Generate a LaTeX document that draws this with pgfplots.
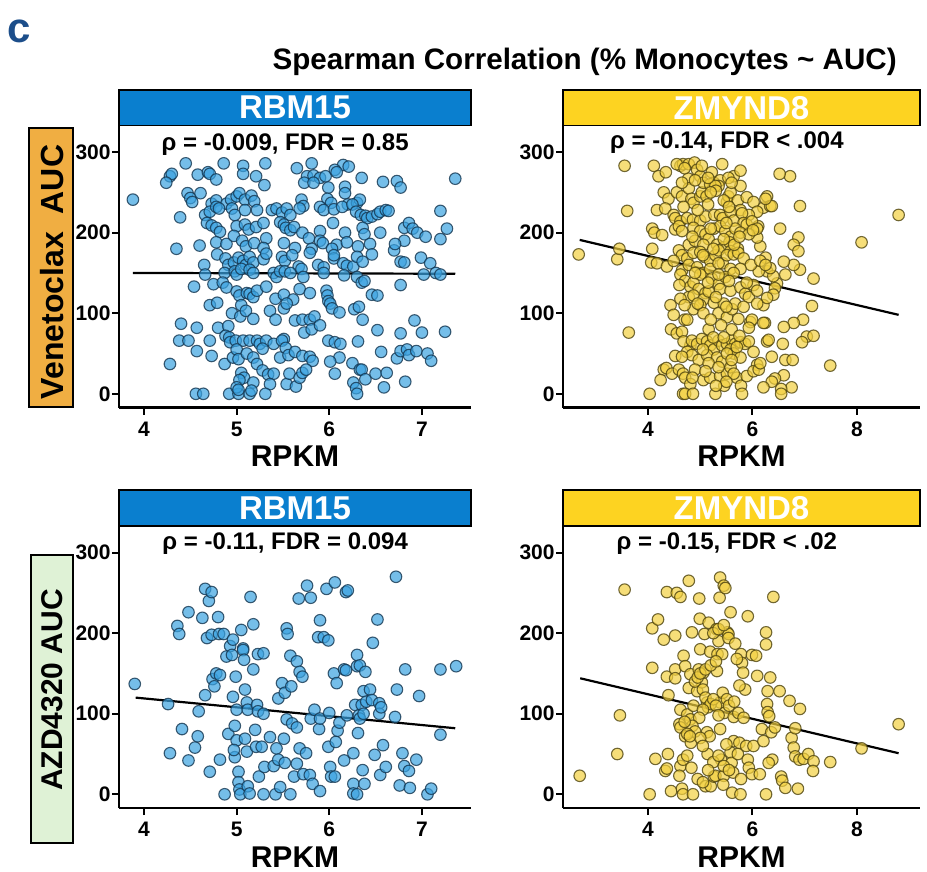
\documentclass[border=0pt]{standalone}
\usepackage{fontspec}
\setmainfont{Liberation Sans}
\usepackage{pgfplots}
\pgfplotsset{compat=1.18}
\definecolor{stripblue}{HTML}{0A7FCF}
\definecolor{stripyellow}{HTML}{FDD321}
\definecolor{boxorange}{HTML}{F0AE42}
\definecolor{boxgreen}{HTML}{DFF2D6}
\definecolor{ptblue}{HTML}{3AA2E0}
\definecolor{ptblueedge}{HTML}{143650}
\definecolor{ptyellow}{HTML}{F2D040}
\definecolor{ptyellowedge}{HTML}{4F4510}
\definecolor{letterblue}{HTML}{1C4E8A}
\tikzset{annot/.style={font=\bfseries\fontsize{12}{14}\selectfont, anchor=base}}
\pgfplotsset{
 panel/.style={
  scale only axis, height=141pt,
  axis x line*=bottom, axis y line*=left,
  axis line style={line width=1.3pt},
  tick style={line width=1pt, black},
  tick align=outside, major tick length=3.5pt,
  ymin=-17, ymax=333, ytick={0,100,200,300},
  /pgf/number format/assume math mode=true,
  ticklabel style={font=\bfseries\fontsize{10.5}{12}\selectfont},
  yticklabel style={inner sep=0.5pt},
  xlabel={RPKM},
  xlabel style={font=\bfseries\fontsize{15}{18}\selectfont, at={(axis description cs:0.5,0)}, anchor=center, yshift=-24.5pt},
  clip=false,
 },
 bluepts/.style={only marks, mark=*, mark size=2.9pt, mark options={fill=ptblue, fill opacity=0.7, draw=ptblueedge, draw opacity=0.8, line width=0.55pt}},
 yellowpts/.style={only marks, mark=*, mark size=2.9pt, mark options={fill=ptyellow, fill opacity=0.7, draw=ptyellowedge, draw opacity=0.8, line width=0.55pt}},
 fitline/.style={black, line width=1.1pt, no marks},
}
\begin{document}
\begin{tikzpicture}
\path[use as bounding box] (0,0) rectangle (463.5pt,-436pt);
% ---------------- top left
\begin{axis}[panel, at={(59.5pt,-203.75pt)}, anchor=south west, width=176pt,
  xmin=3.73, xmax=7.53, xtick={4,5,6,7}]
\addplot[bluepts] coordinates {
(4.45,286)(4.86,286)(5.07,283)(5.31,286)(5.81,286)(6.15,284)(6.21,282)
(4.28,270)(4.3,273)(4.58,272)(4.69,275)(4.71,273)(4.78,266)(5.07,273)(5.21,270)(5.65,280)(5.76,270)(5.83,271)(5.9,268)(5.96,270)(6.06,278)(6.08,275)(6.35,268)(6.58,263)(6.73,264)(6.77,256)(7.36,267)
(4.24,262)(5.3,259)(5.73,262)(5.83,262)(5.99,256)(6.17,257)
(4.47,249)(4.5,243)(4.52,238)(4.61,249)(4.73,236)(4.78,240)(4.89,236)(4.94,241)(5.0,245)(5.03,249)(5.09,241)(5.16,246)(5.19,239)(5.7,241)(5.72,233)(5.98,242)(6.02,237)(6.17,249)(6.2,235)(6.3,237)(6.33,241)(3.88,241)
(4.39,219)(4.66,222)(4.71,226)(4.78,232)(4.81,230)(4.95,230)(4.98,222)(5.09,228)(5.22,228)(5.38,228)(5.43,230)(5.49,225)(5.54,230)(5.58,222)(5.68,230)(5.9,232)(5.94,228)(6.05,229)(6.14,232)(6.25,235)(6.29,226)(6.34,222)(6.39,221)(6.41,218)(6.46,220)(6.52,223)(6.55,226)(6.61,228)(6.64,227)(7.2,227)
(4.68,212)(4.73,209)(4.78,206)(4.82,201)(5.0,208)(5.09,210)(5.13,204)(5.21,207)(5.29,212)(5.47,213)(5.51,210)(5.53,206)(5.58,203)(5.62,207)(5.71,200)(5.9,202)(6.04,212)(6.17,200)(6.36,206)(6.38,198)(6.55,200)(6.81,206)(6.86,212)(6.9,205)(6.95,200)(7.04,195)(7.27,205)
(4.35,180)(4.6,184)(4.78,188)(4.89,186)(4.97,196)(5.06,190)(5.1,183)(5.19,187)(5.32,193)(5.29,181)(5.51,187)(5.63,181)(5.78,193)(5.81,180)(5.9,190)(5.93,187)(6.08,185)(6.03,180)(6.19,188)(6.31,183)(6.44,186)(6.7,178)(6.81,190)(7.2,192)(6.71,186)
(4.65,160)(4.79,173)(4.88,168)(4.91,160)(4.97,163)(5.02,169)(5.07,165)(5.1,160)(5.14,170)(5.18,163)(5.29,167)(5.32,174)(5.49,170)(5.52,165)(5.6,172)(5.67,158)(5.79,175)(5.88,160)(5.94,157)(6.05,168)(6.05,172)(6.15,162)(6.19,159)(6.26,158)(6.3,170)(6.36,164)(6.46,173)(6.77,164)(6.81,163)(6.99,169)(7.09,162)
(4.66,148)(4.87,150)(4.98,152)(5.0,148)(5.05,155)(5.14,154)(5.18,150)(5.4,150)(5.43,145)(5.47,152)(5.52,152)(5.58,150)(5.7,155)(5.72,145)(5.94,150)(6.16,147)(6.3,145)(6.35,138)(6.38,140)(7.02,148)(7.15,150)(7.2,148)
(4.54,133)(4.75,136)(4.85,138)(4.89,132)(5.0,127)(5.03,122)(5.11,125)(5.14,124)(5.18,120)(5.22,128)(5.32,133)(5.42,118)(5.51,123)(5.61,117)(5.68,130)(5.79,125)(5.97,128)(5.98,122)(5.99,115)(6.46,123)(6.52,122)(6.77,135)
(4.71,110)(4.79,113)(4.95,100)(5.05,110)(5.04,96)(5.1,103)(5.18,93)(5.36,103)(5.42,92)(5.51,106)(5.54,112)(5.63,91)(5.71,92)(5.79,92)(5.84,96)(6.01,112)(6.03,106)(6.11,101)(6.27,105)(6.32,108)(6.36,92)
(4.4,87)(4.57,82)(4.8,82)(4.91,84)(4.88,72)(4.92,70)(4.93,64)(4.99,66)(5.07,66)(5.14,66)(5.22,66)(5.25,62)(5.32,66)(5.4,62)(5.51,68)(5.49,66)(5.73,76)(5.81,80)(5.9,85)(5.99,66)(6.06,64)(6.12,62)(6.31,65)(6.52,79)(6.77,75)(6.92,91)(7.0,76)(7.25,77)
(4.28,37)(4.38,66)(4.48,66)(4.57,53)(4.71,66)(4.73,47)(4.87,37)(4.96,45)(5.0,55)(5.02,43)(5.11,50)(5.18,45)(5.22,37)(5.28,56)(5.47,45)(5.53,57)(5.56,48)(5.63,52)(5.71,47)(5.79,46)(5.82,41)(6.11,45)(6.01,40)(6.25,38)(6.56,52)(6.73,44)(6.77,53)(6.84,55)(6.86,48)(6.94,53)(7.06,50)(7.1,41)
(5.05,26)(5.08,20)(5.03,17)(5.18,14)(5.28,29)(5.34,24)(5.4,25)(5.36,12)(5.54,12)(5.57,25)(5.64,9)(5.68,20)(5.71,26)(5.75,30)(6.06,25)(6.26,14)(6.33,30)(6.35,30)(6.39,18)(6.5,25)(6.62,26)(6.59,8)(6.82,15)(6.29,7)
(4.56,0)(4.64,0)(4.92,0)(5.02,0)(5.14,0)(5.16,4)(5.31,0)(6.3,0)(5.0,8)(5.02,5)
};
\addplot[fitline] coordinates {(3.88,150)(7.36,149)};
\node[annot] at (rel axis cs:0.472,0.913) {ρ = -0.009, FDR = 0.85};
\end{axis}
% ---------------- top right
\begin{axis}[panel, at={(281.5pt,-203.75pt)}, anchor=south west, width=178.5pt,
  xmin=2.37, xmax=9.21, xtick={4,6,8}]
\addplot[yellowpts] coordinates {
(2.67,173)(3.41,167)(3.45,180)(3.55,283)(3.6,227)(3.63,76)(8.09,188)(8.8,222)(7.49,35)(7.17,143)(7.14,109)(6.91,233)(6.72,270)(6.52,273)(6.53,205)(6.88,194)(6.79,185)(6.88,177)(6.91,154)(6.79,160)(6.6,164)(6.63,148)(6.97,92)(6.79,88)(7.04,71)(7.17,72)(6.95,64)(6.6,83)(6.58,62)(6.63,42)(6.77,42)(6.75,8)(6.55,6)(6.55,0)(6.6,23)(6.43,19)(6.37,15)(6.21,8)(6.37,46)(6.21,110)(6.24,88)(6.28,65)(6.31,67)(6.47,137)(6.43,131)(6.4,123)(6.28,119)(6.28,152)(6.4,146)(6.34,156)(6.25,169)(6.12,152)(6.15,183)(6.09,194)(6.11,208)(6.21,231)(6.28,245)(6.34,233)(6.37,233)
(4.11,283)(4.2,270)(4.34,275)(4.62,283)(4.67,285)(4.78,285)(4.89,287)(4.94,278)(5.0,270)(5.03,283)(5.22,275)(5.42,285)(5.26,262)(5.38,265)(5.64,270)(5.77,277)(4.77,267)(5.54,268)(5.35,258)(5.77,258)
(4.3,250)(4.39,242)(4.55,250)(4.65,245)(4.78,255)(4.83,242)(4.87,237)(5.0,245)(5.03,250)(5.12,245)(5.15,235)(5.06,262)(5.19,260)(5.29,258)(5.51,238)(5.54,245)(5.58,250)(5.72,240)(5.89,244)(6.02,238)(6.25,242)(6.09,226)(5.77,228)(5.93,222)(4.68,232)(4.17,228)(4.33,230)(4.49,222)(4.52,218)(4.62,214)(4.75,218)(4.86,216)(5.0,215)(5.1,220)(5.27,222)(5.38,222)(5.43,218)(5.58,226)(5.64,215)(5.8,224)(5.83,212)(5.89,210)(5.99,214)(6.09,205)
(4.08,205)(4.12,200)(4.27,197)(4.52,204)(4.59,208)(4.65,202)(4.87,206)(5.0,202)(5.1,198)(5.16,192)(5.26,205)(5.38,208)(5.48,202)(5.58,195)(5.67,205)(5.77,200)(5.93,198)(6.01,203)(4.78,185)(4.9,190)(5.06,185)(5.32,185)(5.45,182)(5.56,188)(5.72,180)(5.58,177)
(4.08,180)(4.59,178)(4.65,172)(4.75,168)(4.87,175)(5.0,176)(5.08,170)(5.19,165)(5.29,172)(5.35,178)(5.43,162)(5.51,172)(5.64,173)(5.73,175)(5.83,168)(5.97,160)(6.15,165)(6.25,160)(4.06,163)(4.17,162)(4.36,158)(4.49,165)(4.65,153)(4.78,160)(4.94,157)(5.06,150)(5.19,155)(5.35,162)(5.58,155)(5.77,155)
(4.62,148)(4.71,140)(4.81,133)(4.87,138)(4.97,130)(5.0,148)(5.1,125)(5.22,143)(5.35,136)(5.38,130)(5.48,145)(5.58,128)(5.64,150)(5.77,132)(5.86,124)(5.93,120)(6.02,135)(6.09,128)(4.78,120)(4.87,122)(5.06,117)(5.16,127)(5.26,113)(5.89,138)
(4.43,110)(4.49,98)(4.62,118)(4.7,92)(4.87,105)(5.0,110)(5.06,100)(5.16,80)(5.35,100)(5.45,112)(5.51,95)(5.61,105)(5.67,112)(5.73,93)(5.83,108)(5.96,89)(5.99,92)(5.93,82)(6.09,112)(6.21,88)(4.44,80)(4.55,75)(4.65,77)(4.81,60)
(4.68,65)(4.84,66)(4.94,62)(5.03,68)(5.13,65)(5.19,60)(5.26,55)(5.35,66)(5.42,60)(5.51,62)(5.61,66)(5.67,62)(5.77,64)(5.86,62)(5.93,65)(5.58,55)(5.64,50)(5.77,45)(4.75,52)(4.84,48)(4.97,42)(5.13,48)(5.32,45)(5.42,40)(5.51,50)(4.52,47)(4.65,46)(6.02,52)(6.09,36)(5.16,38)
(4.3,30)(4.35,32)(4.46,25)(4.59,30)(4.67,25)(4.71,20)(4.81,12)(4.24,17)(5.06,17)(5.19,20)(5.38,22)(5.51,25)(5.58,33)(5.7,20)(5.78,10)(5.89,22)(6.02,28)(6.12,30)(6.15,38)(5.8,0)(5.29,0)(4.67,0)(4.71,0)(4.86,0)(4.03,0)(5.46,10)(5.64,25)
(4.55,285)(4.7,280)(4.9,265)(5.15,268)(5.3,252)(5.45,240)(5.6,262)(5.55,232)(5.5,212)(5.2,205)(4.95,228)(4.85,195)(5.05,172)(5.25,180)(5.45,192)(5.35,148)(5.55,140)(5.15,138)(4.95,112)(5.3,120)(5.5,108)(5.2,92)(4.75,92)(5.4,85)(5.6,80)(5.75,72)(5.05,55)(5.25,70)(5.45,70)(4.9,30)(5.1,28)(5.35,33)(5.6,42)(5.5,15)(5.3,10)(4.85,20)(5.7,58)(4.7,110)(4.6,135)(4.9,150)(5.65,185)(5.75,195)(4.65,262)(5.2,250)
};
\addplot[fitline] coordinates {(2.69,191)(8.8,98)};
\node[annot] at (rel axis cs:0.459,0.917) {ρ = -0.14, FDR < .004};
\end{axis}
% ---------------- bottom left
\begin{axis}[panel, at={(59.5pt,-404pt)}, anchor=south west, width=176pt,
  xmin=3.73, xmax=7.53, xtick={4,5,6,7}]
\addplot[bluepts] coordinates {
(3.9,137)(4.26,112)(4.28,51)(4.36,209)(4.38,199)(4.41,81)(4.48,226)(4.48,42)(4.55,58)(4.58,72)(4.59,103)(4.63,219)(4.66,255)(4.66,123)(4.68,194)(4.7,240)(4.73,251)(4.71,28)(4.73,198)(4.74,143)(4.76,134)(4.78,150)(4.8,220)(4.81,199)(4.82,148)(4.86,199)(4.89,171)(4.91,75)(4.82,43)(4.87,0)(4.93,184)(4.95,173)(4.96,192)(4.96,121)(4.98,85)(4.99,146)(5.0,105)(5.0,67)(4.98,46)(4.97,55)(5.02,28)(5.02,15)(5.03,6)(5.04,0)(5.05,204)(5.07,181)(5.07,179)(5.08,167)(5.09,130)(5.09,69)(5.11,114)(5.12,105)(5.11,53)(5.12,10)(5.14,1)(5.15,245)(5.18,211)(5.18,155)(5.2,80)(5.21,59)(5.22,111)(5.23,103)(5.24,22)(5.23,174)(5.29,175)(5.29,100)(5.29,0)(5.27,59)(5.3,34)(5.36,71)(5.4,35)(5.42,0)(5.43,57)(5.45,119)(5.45,43)(5.47,9)(5.49,138)(5.51,69)(5.52,126)(5.52,39)(5.54,206)(5.55,199)(5.54,93)(5.58,172)(5.58,0)(5.59,134)(5.6,88)(5.62,22)(5.65,165)(5.65,83)(5.65,38)(5.67,243)(5.68,152)(5.68,57)(5.71,146)(5.72,25)(5.75,51)(5.76,259)(5.79,24)(5.8,244)(5.8,94)(5.82,13)(5.84,105)(5.88,195)(5.89,81)(5.9,4)(5.9,216)(5.9,94)(5.94,195)(5.97,255)(5.99,191)(5.99,59)(6.0,101)(6.01,34)(6.02,22)(6.05,150)(6.06,263)(6.06,22)(6.07,65)(6.08,138)(6.09,79)(6.11,89)(6.16,155)(6.18,154)(6.18,251)(6.19,98)(6.2,253)(6.16,42)(6.26,51)(6.26,13)(6.26,1)(6.28,111)(6.3,159)(6.3,173)(6.31,76)(6.3,0)(6.32,98)(6.33,160)(6.33,94)(6.35,111)(6.36,30)(6.37,100)(6.38,13)(6.37,128)(6.39,152)(6.4,115)(6.44,130)(6.46,117)(6.47,188)(6.49,49)(6.52,217)(6.54,113)(6.54,100)(6.56,108)(6.55,24)(6.58,61)(6.61,34)(6.71,96)(6.73,130)(6.72,270)(6.76,11)(6.79,51)(6.81,35)(6.82,155)(6.86,29)(6.87,8)(6.94,43)(6.97,122)(7.06,0)(7.1,7)(7.2,155)(7.2,74)(7.37,159)
};
\addplot[fitline] coordinates {(3.91,120)(7.36,82)};
\node[annot] at (rel axis cs:0.472,0.918) {ρ = -0.11, FDR = 0.094};
\end{axis}
% ---------------- bottom right
\begin{axis}[panel, at={(281.5pt,-404pt)}, anchor=south west, width=178.5pt,
  xmin=2.37, xmax=9.21, xtick={4,6,8}]
\addplot[yellowpts] coordinates {
(2.69,23)(3.41,50)(3.46,98)(3.55,254)(4.08,206)(4.08,157)(4.03,0)(4.14,44)(4.19,217)(4.3,192)(4.36,251)(4.36,146)(4.38,50)(4.39,123)(4.33,29)(4.36,32)(4.44,4)(4.52,197)(4.52,155)(4.52,144)(4.55,250)(4.62,245)(4.62,105)(4.6,87)(4.62,83)(4.62,35)(4.6,23)(4.65,7)(4.67,0)(4.67,43)(4.68,172)(4.71,72)(4.71,159)(4.75,99)(4.75,48)(4.78,265)(4.78,132)(4.81,149)(4.81,93)(4.82,64)(4.83,33)(4.84,201)(4.86,0)(4.87,110)(4.94,128)(4.95,19)(4.97,155)(4.98,243)(4.99,218)(5.0,180)(5.03,139)(5.06,151)(5.08,199)(5.1,10)(5.13,114)(5.13,77)(5.14,50)(5.16,213)(5.18,72)(5.19,177)(5.2,10)(5.26,22)(5.29,23)(5.31,205)(5.32,153)(5.33,174)(5.35,190)(5.37,244)(5.38,269)(5.38,114)(5.38,81)(5.4,43)(5.42,174)(5.43,126)(5.45,259)(5.48,256)(5.46,101)(5.45,23)(5.44,12)(5.51,118)(5.52,201)(5.54,199)(5.54,194)(5.58,226)(5.61,2)(5.58,52)(5.6,39)(5.63,27)(5.64,96)(5.64,66)(5.67,187)(5.72,50)(5.73,101)(5.75,64)(5.77,0)(5.78,174)(5.78,19)(5.8,163)(5.82,151)(5.83,95)(5.86,130)(5.88,60)(5.91,221)(5.91,43)(5.93,33)(5.99,25)(5.99,173)(6.02,60)(6.07,172)(6.09,147)(6.14,25)(6.18,81)(6.21,66)(6.26,201)(6.26,186)(6.26,0)(6.28,112)(6.29,102)(6.32,97)(6.29,128)(6.34,145)(6.36,77)(6.38,43)(6.31,39)(6.4,245)(6.43,83)(6.52,128)(6.55,22)(6.57,17)(6.63,8)(6.71,116)(6.75,70)(6.79,58)(6.82,82)(6.82,47)(6.87,7)(6.9,43)(6.91,106)(6.98,44)(7.07,50)(7.17,41)(7.16,29)(7.49,40)(8.09,57)(8.8,87)
(4.9,140)(4.95,145)(5.0,150)(5.05,130)(5.1,120)(5.15,108)(5.2,112)(5.25,118)(5.3,110)(5.35,98)(5.05,105)(4.98,95)(5.1,155)(5.2,160)(5.3,165)(5.25,200)(5.35,205)(5.45,210)(4.85,85)(4.9,78)(5.0,70)(5.05,60)(5.25,40)(5.35,48)(5.45,35)(5.55,30)(5.5,62)(5.55,110)(5.65,115)(5.7,168)(5.75,135)(4.75,75)(4.7,90)(4.8,72)(5.15,30)(5.05,15)
};
\addplot[fitline] coordinates {(2.7,144)(8.8,51)};
\node[annot] at (rel axis cs:0.459,0.915) {ρ = -0.15, FDR < .02};
\end{axis}
% ---------------- decorations
\node[font=\bfseries\fontsize{21}{24}\selectfont, text=letterblue] at (9.75pt,-15.5pt) {c};
\node[font=\bfseries\fontsize{14.8}{17}\selectfont] at (292.3pt,-31pt) {Spearman Correlation (\% Monocytes \textasciitilde{} AUC)};
\filldraw[fill=stripblue, draw=black, line width=0.9pt] (59.5pt,-45pt) rectangle (235.5pt,-62.75pt);
\node[text=white, font=\bfseries\fontsize{16.5}{19}\selectfont] at (147.5pt,-53.9pt) {RBM15};
\filldraw[fill=stripyellow, draw=black, line width=0.9pt] (281.5pt,-45pt) rectangle (460pt,-62.75pt);
\node[text=white, font=\bfseries\fontsize{16.5}{19}\selectfont] at (370.75pt,-53.9pt) {ZMYND8};
\filldraw[fill=stripblue, draw=black, line width=0.9pt] (59.5pt,-245pt) rectangle (235.5pt,-263pt);
\node[text=white, font=\bfseries\fontsize{16.5}{19}\selectfont] at (147.5pt,-254pt) {RBM15};
\filldraw[fill=stripyellow, draw=black, line width=0.9pt] (281.5pt,-245pt) rectangle (460pt,-263pt);
\node[text=white, font=\bfseries\fontsize{16.5}{19}\selectfont] at (370.75pt,-254pt) {ZMYND8};
\filldraw[fill=boxorange, draw=black, line width=0.9pt] (14.5pt,-64pt) rectangle (36.5pt,-203.5pt);
\node[rotate=90, font=\bfseries\fontsize{16}{19}\selectfont] at (25.8pt,-136pt) {Venetoclax\ \ AUC};
\filldraw[fill=boxgreen, draw=black, line width=0.9pt] (15.5pt,-277.5pt) rectangle (36.5pt,-421.5pt);
\node[rotate=90, font=\bfseries\fontsize{15}{18}\selectfont] at (26pt,-345pt) {AZD4320 AUC};
\end{tikzpicture}
\end{document}
